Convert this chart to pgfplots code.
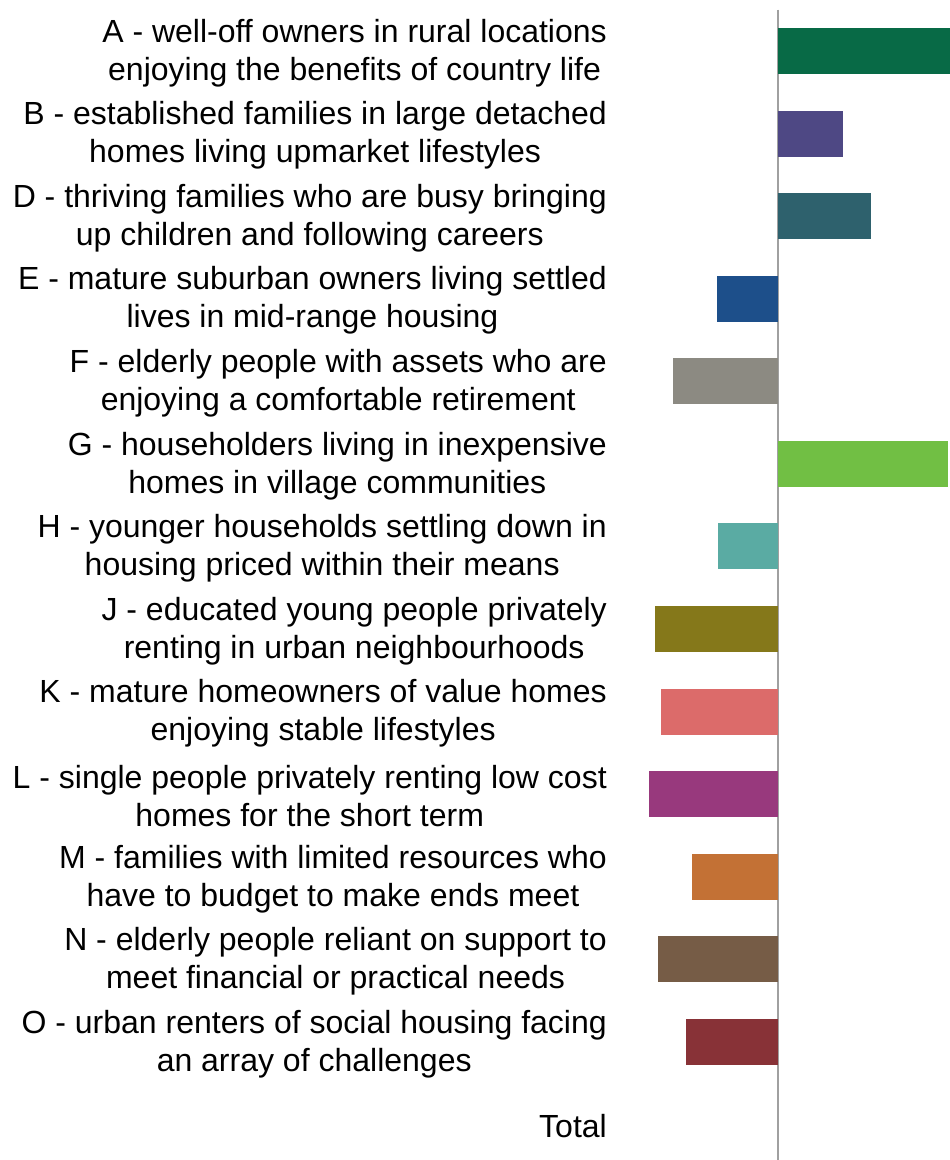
\documentclass[border=0pt]{standalone}
\usepackage{fontspec}
\setmainfont{Liberation Sans}
\usepackage{pgfplots}
\pgfplotsset{compat=1.18}
\definecolor{cA}{HTML}{086A46}
\definecolor{cB}{HTML}{4E4884}
\definecolor{cD}{HTML}{2E616D}
\definecolor{cE}{HTML}{1D4F8A}
\definecolor{cF}{HTML}{8C8A82}
\definecolor{cG}{HTML}{71BF44}
\definecolor{cH}{HTML}{5AABA3}
\definecolor{cJ}{HTML}{85781A}
\definecolor{cK}{HTML}{DC6B6A}
\definecolor{cL}{HTML}{98397D}
\definecolor{cM}{HTML}{C37135}
\definecolor{cN}{HTML}{765C46}
\definecolor{cO}{HTML}{883237}
\definecolor{zline}{HTML}{A0A0A0}
\begin{document}
\begin{tikzpicture}[x=1pt,y=1pt]
\begin{axis}[
  at={(630pt,0pt)}, anchor=south west,
  scale only axis, width=320pt, height=1150.3pt,
  xmin=-148, xmax=172, ymin=-0.5, ymax=13.43, y dir=reverse,
  xbar, bar width=46pt, bar shift=0pt,
  axis line style={draw=none},
  xtick=\empty,
  ytick={0,...,13},
  yticklabels={
    {A - well-off owners in rural locations\\enjoying the benefits of country life},
    {B - established families in large detached\\homes living upmarket lifestyles},
    {D - thriving families who are busy bringing\\up children and following careers},
    {E - mature suburban owners living settled\\lives in mid-range housing},
    {F - elderly people with assets who are\\enjoying a comfortable retirement},
    {G - householders living in inexpensive\\homes in village communities},
    {H - younger households settling down in\\housing priced within their means},
    {J - educated young people privately\\renting in urban neighbourhoods},
    {K - mature homeowners of value homes\\enjoying stable lifestyles},
    {L - single people privately renting low cost\\homes for the short term},
    {M - families with limited resources who\\have to budget to make ends meet},
    {N - elderly people reliant on support to\\meet financial or practical needs},
    {O - urban renters of social housing facing\\an array of challenges},
    {Total}},
  major tick length=0pt,
  ytick style={draw=none},
  yticklabel style={font=\fontsize{32}{38}\selectfont, align=center, inner sep=0pt, xshift=-23pt, yshift=-2pt},
  extra x ticks={0}, extra x tick labels={},
  extra x tick style={grid=major, grid style={draw=zline, line width=1.5pt}},
  every axis plot/.append style={draw=none},
]
\addplot[fill=cA] coordinates {(172,0)};
\addplot[fill=cB] coordinates {(65,1)};
\addplot[fill=cD] coordinates {(93,2)};
\addplot[fill=cE] coordinates {(-61,3)};
\addplot[fill=cF] coordinates {(-105,4)};
\addplot[fill=cG] coordinates {(170,5)};
\addplot[fill=cH] coordinates {(-60,6)};
\addplot[fill=cJ] coordinates {(-123,7)};
\addplot[fill=cK] coordinates {(-117,8)};
\addplot[fill=cL] coordinates {(-129,9)};
\addplot[fill=cM] coordinates {(-86,10)};
\addplot[fill=cN] coordinates {(-120,11)};
\addplot[fill=cO] coordinates {(-92,12)};
\end{axis}
\pgfresetboundingbox
\path (0,0) rectangle (950,1160);
\end{tikzpicture}
\end{document}
